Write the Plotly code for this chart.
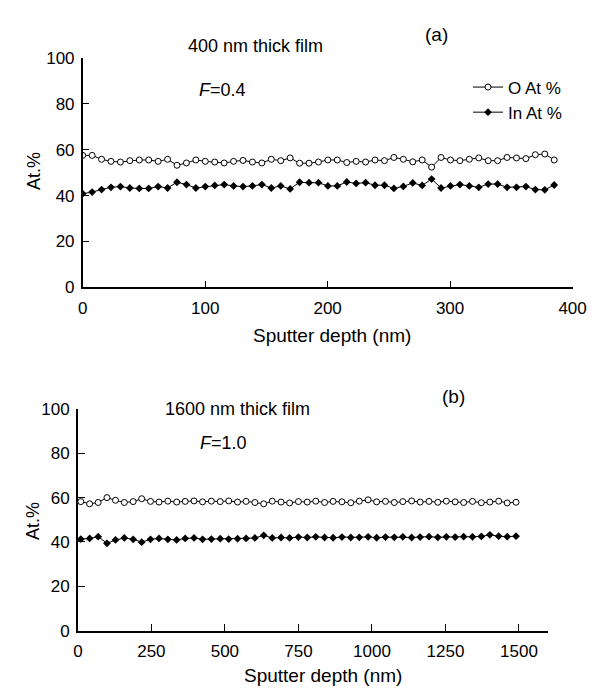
import plotly.graph_objects as go

# ---- data ----
depth_a = [0, 7.7, 15.4, 23.1, 30.8, 38.5, 46.2, 53.9, 61.6, 69.3, 77, 84.7, 92.4, 100.1, 107.8,
           115.5, 123.2, 130.9, 138.6, 146.3, 154, 161.7, 169.4, 177.1, 184.8, 192.5, 200.2, 207.9,
           215.6, 223.3, 231, 238.7, 246.4, 254.1, 261.8, 269.5, 277.2, 284.9, 292.6, 300.3, 308,
           315.7, 323.4, 331.1, 338.8, 346.5, 354.2, 361.9, 369.6, 377.3, 385]
o_a = [57.5, 57.5, 55.8, 54.9, 54.6, 55.2, 55.5, 55.5, 54.9, 55.8,
       53.2, 54.2, 55.5, 54.9, 54.6, 54.2, 54.9, 55.3, 54.6, 54.2,
       55.8, 55.2, 56.4, 54.1, 54.1, 54.6, 55.5, 55.5, 54.4, 54.9,
       54.6, 55.5, 55.2, 56.6, 55.8, 54.7, 55.5, 52.4, 56.6, 55.5,
       55.2, 55.8, 56.4, 55.2, 55.2, 56.6, 56.4, 56.1, 57.8, 58.1, 55.5]
in_a = [40.8, 41.5, 42.6, 43.6, 43.9, 43.3, 43.1, 43.1, 43.9, 43.3,
        45.8, 44.8, 43.3, 43.9, 44.4, 44.8, 44.2, 43.9, 44.2, 44.8,
        43.3, 44.2, 42.9, 45.8, 45.6, 45.6, 44.2, 44.2, 45.9, 45.3,
        45.6, 44.5, 44.5, 43.1, 44.0, 45.5, 44.4, 47.2, 43.3, 44.2,
        44.8, 44.2, 43.6, 45.0, 45.0, 43.6, 43.6, 43.9, 42.6, 42.5, 44.6]

depth_b = [10, 40, 69, 99, 128, 158, 188, 217, 247, 276, 306, 336, 365, 395, 424, 454, 484, 513,
           543, 572, 602, 632, 661, 691, 720, 750, 780, 809, 839, 868, 898, 928, 957, 987, 1016,
           1046, 1076, 1105, 1135, 1164, 1194, 1224, 1253, 1283, 1312, 1342, 1372, 1401, 1431,
           1460, 1490]
o_b = [58.2, 57.2, 57.8, 60.0, 58.8, 57.8, 58.2, 59.5, 58.3, 58.0,
       58.4, 58.0, 58.3, 58.5, 58.1, 58.4, 58.2, 58.5, 58.0, 58.3,
       57.8, 57.2, 58.4, 58.0, 57.6, 58.2, 58.0, 58.4, 57.8, 58.3,
       58.1, 57.7, 58.4, 59.0, 58.1, 58.3, 57.8, 58.2, 58.5, 58.0,
       58.3, 57.9, 58.4, 58.1, 57.8, 58.3, 57.7, 58.0, 58.4, 57.6, 57.9]
in_b = [41.3, 41.6, 42.4, 39.4, 40.9, 41.8, 41.2, 39.9, 41.2, 41.6,
        41.2, 40.9, 41.6, 41.8, 41.2, 41.3, 41.5, 41.3, 41.5, 41.6,
        41.8, 43.0, 41.8, 42.0, 41.8, 42.2, 42.0, 42.3, 42.0, 41.9,
        42.2, 42.0, 42.1, 42.3, 41.9, 42.2, 42.1, 42.3, 42.0, 42.2,
        42.4, 42.1, 42.3, 42.2, 42.4, 42.3, 42.5, 43.2, 42.6, 42.4, 42.6]

ticks_a = [0, 100, 200, 300, 400]
ticks_b = [0, 250, 500, 750, 1000, 1250, 1500]
ticks_y = [0, 20, 40, 60, 80, 100]

FONT = "Liberation Sans Narrow, Liberation Sans, Arial, sans-serif"
W, H = 596, 691

o_marker = dict(symbol="circle", size=6, color="white", line=dict(color="black", width=1))
in_marker = dict(symbol="diamond", size=6, color="black", line=dict(color="black", width=0))
ln = dict(color="black", width=1)

fig = go.Figure()
fig.add_trace(go.Scatter(x=depth_a, y=o_a, mode="lines+markers", name="O At %",
                         marker=o_marker, line=ln, xaxis="x", yaxis="y"))
fig.add_trace(go.Scatter(x=depth_a, y=in_a, mode="lines+markers", name="In At %",
                         marker=in_marker, line=ln, xaxis="x", yaxis="y"))
fig.add_trace(go.Scatter(x=depth_b, y=o_b, mode="lines+markers", name="O At %", showlegend=False,
                         marker=o_marker, line=ln, xaxis="x2", yaxis="y2"))
fig.add_trace(go.Scatter(x=depth_b, y=in_b, mode="lines+markers", name="In At %", showlegend=False,
                         marker=in_marker, line=ln, xaxis="x2", yaxis="y2"))

def px_x(p):
    return p / W

def px_y(p):
    return 1 - p / H

axis_common = dict(showgrid=False, zeroline=False, showline=True, linecolor="black", linewidth=1.5,
                   ticks="inside", ticklen=7, tickcolor="black", tickwidth=1,
                   tickfont=dict(family=FONT, size=17, color="black"))

fig.update_layout(
    width=W, height=H,
    margin=dict(l=0, r=0, t=0, b=0),
    paper_bgcolor="white", plot_bgcolor="white",
    font=dict(family=FONT, color="black"),
    xaxis=dict(domain=[px_x(72), px_x(578)], range=[0, 400], tickvals=ticks_a,
               anchor="y", ticklabelstandoff=4, **axis_common),
    yaxis=dict(domain=[px_y(278), px_y(42)], range=[0, 100], tickvals=ticks_y,
               anchor="x", ticklabelstandoff=3, **axis_common),
    xaxis2=dict(domain=[px_x(67), px_x(553)], range=[0, 1600], tickvals=ticks_b,
                anchor="y2", ticklabelstandoff=4, **axis_common),
    yaxis2=dict(domain=[px_y(631), px_y(403)], range=[0, 100], tickvals=ticks_y,
                anchor="x2", ticklabelstandoff=3, **axis_common),
    showlegend=True,
    legend=dict(x=px_x(470), y=px_y(54), xanchor="left", yanchor="top",
                bgcolor="rgba(0,0,0,0)", font=dict(family=FONT, size=17, color="black"),
                itemwidth=30, tracegroupgap=0),
)

def ann(text, x, y, size=18, angle=0):
    fig.add_annotation(text=text, x=px_x(x), y=px_y(y), xref="paper", yref="paper",
                       showarrow=False, textangle=angle, xanchor="center", yanchor="middle",
                       font=dict(family=FONT, size=size, color="black"))

ann("400 nm thick film", 250, 30, 18)
ann("(a)", 437, 18, 19)
ann("<i>F</i>=0.4", 216, 75, 18)
ann("At.%", 21, 158, 18, angle=-90)
ann("Sputter depth (nm)", 330, 327, 19)

ann("1600 nm thick film", 232, 403, 18)
ann("(b)", 455, 390, 19)
ann("<i>F</i>=1.0", 217, 438, 18)
ann("At.%", 20, 518, 18, angle=-90)
ann("Sputter depth (nm)", 320, 677, 19)

fig.write_html("out.html")
